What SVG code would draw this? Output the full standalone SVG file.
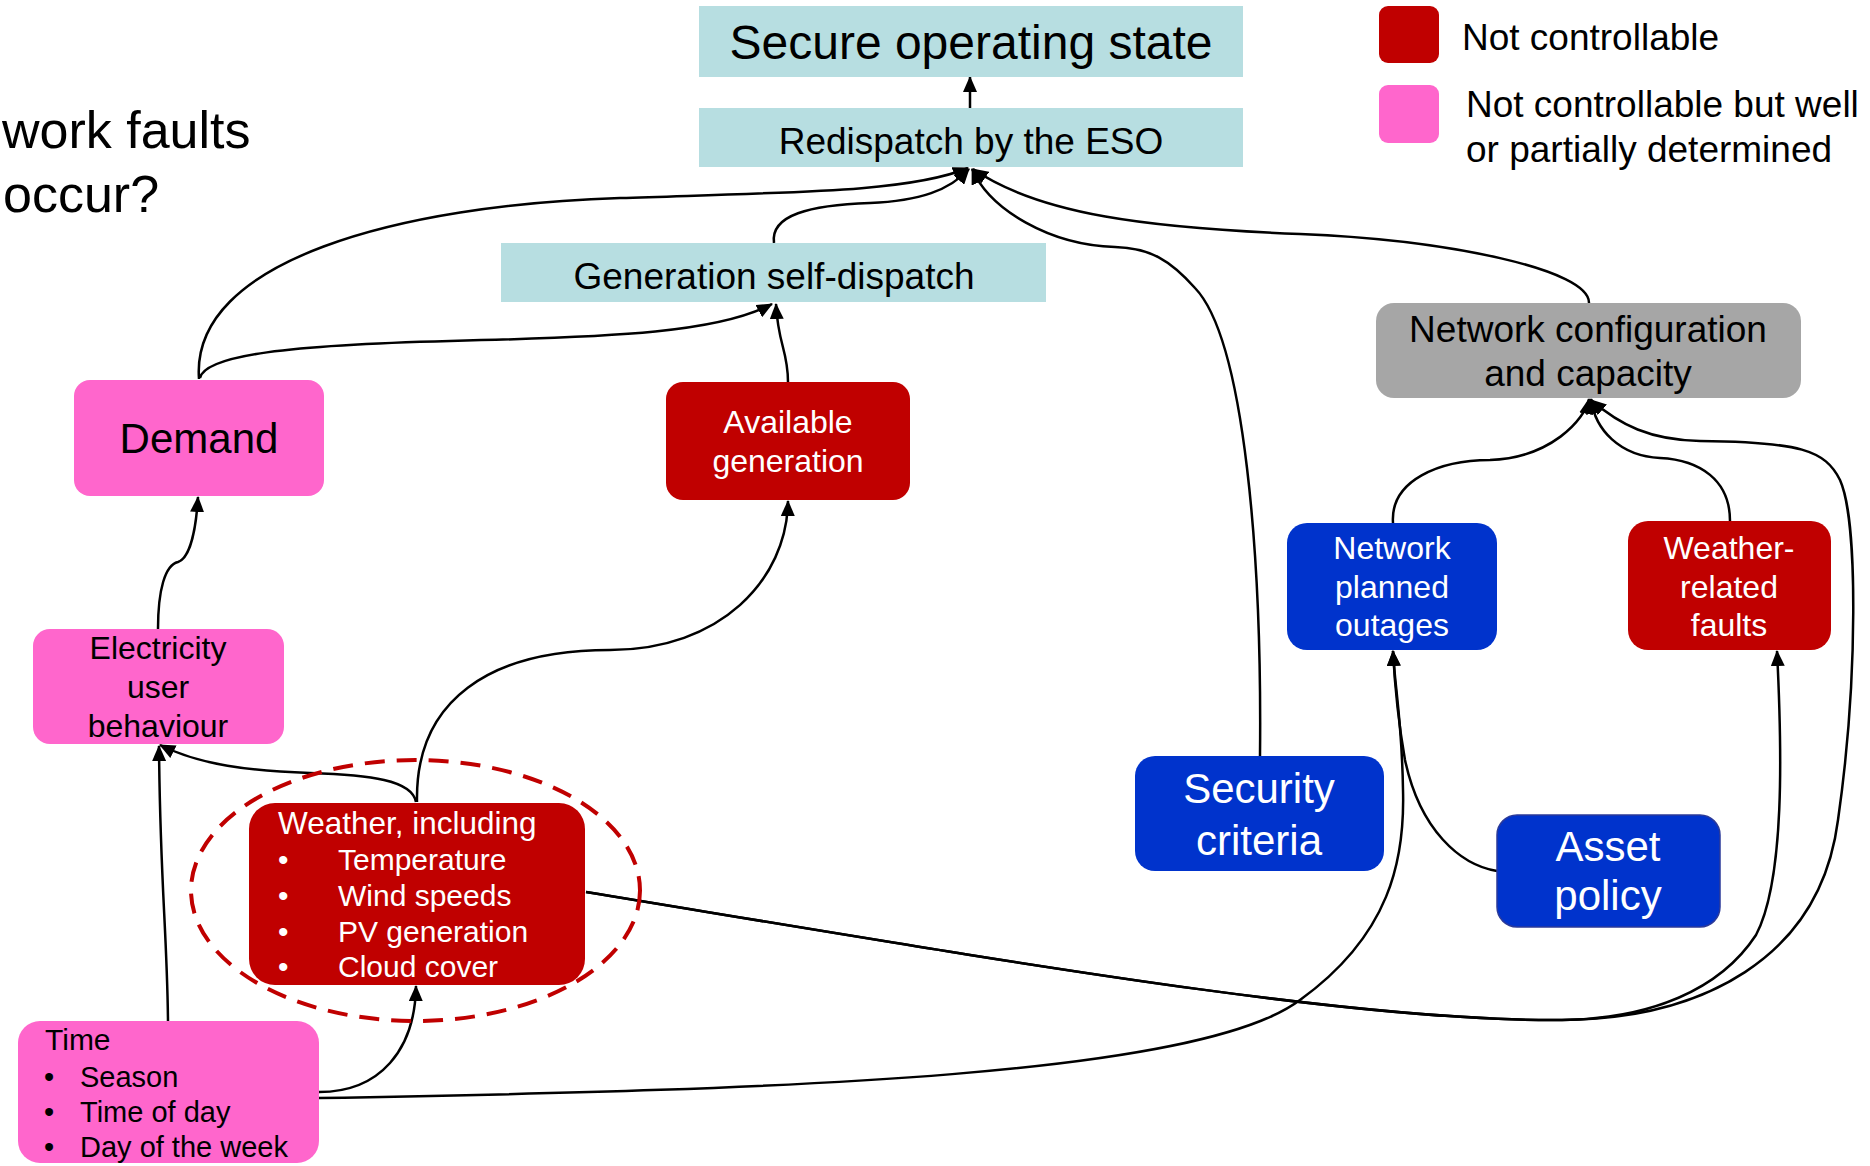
<svg xmlns="http://www.w3.org/2000/svg" width="1870" height="1166" viewBox="0 0 1870 1166">
<defs>
<style>
text{font-family:"Liberation Sans",Arial,sans-serif;}
.cyan{fill:#b7dee1;}
.pink{fill:#ff66cc;}
.red{fill:#c00000;}
.blue{fill:#0033cc;}
.gray{fill:#a6a6a6;}
.dk{fill:#000;}
.wt{fill:#fff;}
.c{text-anchor:middle;}
.edge{fill:none;stroke:#000;stroke-width:2.5;marker-end:url(#ah);}
</style>
<marker id="ah" markerUnits="userSpaceOnUse" markerWidth="16" markerHeight="14" refX="15" refY="7" orient="auto">
<path d="M0,0 L16,7 L0,14 z" fill="#000"/>
</marker>
</defs>
<rect width="1870" height="1166" fill="#fff"/>

<g id="title">
<text x="2" y="148" font-size="52" class="dk">work faults</text>
<text x="3" y="212" font-size="52" class="dk">occur?</text>
</g>

<g id="legend">
<rect x="1379" y="6" width="60" height="57" rx="9" class="red"/>
<rect x="1379" y="85" width="60" height="58" rx="9" class="pink"/>
<text x="1462" y="50" font-size="37" class="dk">Not controllable</text>
<text x="1466" y="117" font-size="37" class="dk">Not controllable but well</text>
<text x="1466" y="162" font-size="37" class="dk">or partially determined</text>
</g>

<g id="connectors">
<path class="edge" d="M970,108 L970,77"/>
<path class="edge" d="M199,379 C190,260 400,205 620,198 C800,192 910,192 968,168"/>
<path class="edge" d="M200,378 C205,355 290,345 450,341 C620,337 720,332 772,304"/>
<path class="edge" d="M788,382 C788,350 778,345 776,304"/>
<path class="edge" d="M774,243 C770,215 810,205 870,203 C920,201 950,190 969,169"/>
<path class="edge" d="M1260,756 C1262,560 1245,340 1195,288 C1170,260 1150,248 1115,247 C1050,245 990,210 972,169"/>
<path class="edge" d="M1589,303 C1590,270 1450,240 1300,234 C1150,228 1040,215 973,169"/>
<path class="edge" d="M158,629 C158,590 165,565 178,562 C190,558 196,530 198,497"/>
<path class="edge" d="M416,802 C412,780 370,775 310,773 C250,771 200,765 160,745"/>
<path class="edge" d="M417,802 C415,700 490,650 610,650 C720,650 787,580 788,501"/>
<path class="edge" d="M168,1021 C167,930 160,880 159,746"/>
<path class="edge" d="M319,1092 C380,1092 415,1050 416,986"/>
<path class="edge" d="M318,1098 C800,1090 1200,1075 1300,1000 C1390,935 1405,860 1403,790 C1402,720 1395,690 1393,651"/>
<path class="edge" d="M1497,871 C1460,865 1420,830 1405,760 C1398,720 1395,690 1393,651"/>
<path class="edge" d="M1393,523 C1390,480 1440,460 1490,460 C1550,458 1585,420 1589,399"/>
<path class="edge" d="M1730,521 C1730,480 1700,460 1660,458 C1620,456 1595,430 1591,399"/>
<path class="edge" d="M586,892 C1000,960 1350,1022 1562,1020 C1650,1019 1720,990 1756,935 C1785,880 1782,750 1777,651"/>
<path class="edge" d="M586,892 C1000,960 1350,1022 1562,1020 C1700,1019 1820,960 1838,820 C1858,680 1858,520 1840,480 C1825,450 1800,442 1700,441 C1650,440 1620,425 1591,400"/>
</g>

<g id="secure">
<rect x="699" y="6" width="544" height="71" class="cyan"/>
<text x="971" y="59" font-size="48" class="dk c">Secure operating state</text>
</g>

<g id="redispatch">
<rect x="699" y="108" width="544" height="59" class="cyan"/>
<text x="971" y="154" font-size="37" class="dk c">Redispatch by the ESO</text>
</g>

<g id="gen-self-dispatch">
<rect x="501" y="243" width="545" height="59" class="cyan"/>
<text x="774" y="289" font-size="37" class="dk c">Generation self-dispatch</text>
</g>

<g id="network-config">
<rect x="1376" y="303" width="425" height="95" rx="18" class="gray"/>
<text x="1588" y="342" font-size="37" class="dk c">Network configuration</text>
<text x="1588" y="386" font-size="37" class="dk c">and capacity</text>
</g>

<g id="demand">
<rect x="74" y="380" width="250" height="116" rx="16" class="pink"/>
<text x="199" y="453" font-size="42" class="dk c">Demand</text>
</g>

<g id="available-generation">
<rect x="666" y="382" width="244" height="118" rx="17" class="red"/>
<text x="788" y="433" font-size="32" class="wt c">Available</text>
<text x="788" y="472" font-size="32" class="wt c">generation</text>
</g>

<g id="electricity-user-behaviour">
<rect x="33" y="629" width="251" height="115" rx="17" class="pink"/>
<text x="158" y="659" font-size="32" class="dk c">Electricity</text>
<text x="158" y="698" font-size="32" class="dk c">user</text>
<text x="158" y="737" font-size="32" class="dk c">behaviour</text>
</g>

<g id="weather">
<ellipse cx="415.5" cy="890.5" rx="224.5" ry="130.5" fill="none" stroke="#c00000" stroke-width="4" stroke-dasharray="20,12"/>
<rect x="249" y="803" width="336" height="182" rx="26" class="red"/>
<text x="278" y="834" font-size="31.5" class="wt">Weather, including</text>
<g font-size="30" class="wt">
<text x="278" y="870">•</text><text x="338" y="870">Temperature</text>
<text x="278" y="906">•</text><text x="338" y="906">Wind speeds</text>
<text x="278" y="942">•</text><text x="338" y="942">PV generation</text>
<text x="278" y="977">•</text><text x="338" y="977">Cloud cover</text>
</g>
</g>

<g id="time">
<rect x="18" y="1021" width="301" height="142" rx="22" class="pink"/>
<text x="45" y="1050" font-size="30" class="dk">Time</text>
<g font-size="29" class="dk">
<text x="44" y="1087">•</text><text x="80" y="1087">Season</text>
<text x="44" y="1122">•</text><text x="80" y="1122">Time of day</text>
<text x="44" y="1157">•</text><text x="80" y="1157">Day of the week</text>
</g>
</g>

<g id="network-planned-outages">
<rect x="1287" y="523" width="210" height="127" rx="20" class="blue"/>
<text x="1392" y="559" font-size="32" class="wt c">Network</text>
<text x="1392" y="598" font-size="32" class="wt c">planned</text>
<text x="1392" y="636" font-size="32" class="wt c">outages</text>
</g>

<g id="weather-related-faults">
<rect x="1628" y="521" width="203" height="129" rx="20" class="red"/>
<text x="1729" y="559" font-size="32" class="wt c">Weather-</text>
<text x="1729" y="598" font-size="32" class="wt c">related</text>
<text x="1729" y="636" font-size="32" class="wt c">faults</text>
</g>

<g id="security-criteria">
<rect x="1135" y="756" width="249" height="115" rx="20" class="blue"/>
<text x="1259" y="803" font-size="42" class="wt c">Security</text>
<text x="1259" y="855" font-size="42" class="wt c">criteria</text>
</g>

<g id="asset-policy">
<rect x="1497" y="815" width="223" height="112" rx="20" class="blue" stroke="#2b3a99" stroke-width="1.5"/>
<text x="1608" y="861" font-size="42" class="wt c">Asset</text>
<text x="1608" y="910" font-size="42" class="wt c">policy</text>
</g>
</svg>
